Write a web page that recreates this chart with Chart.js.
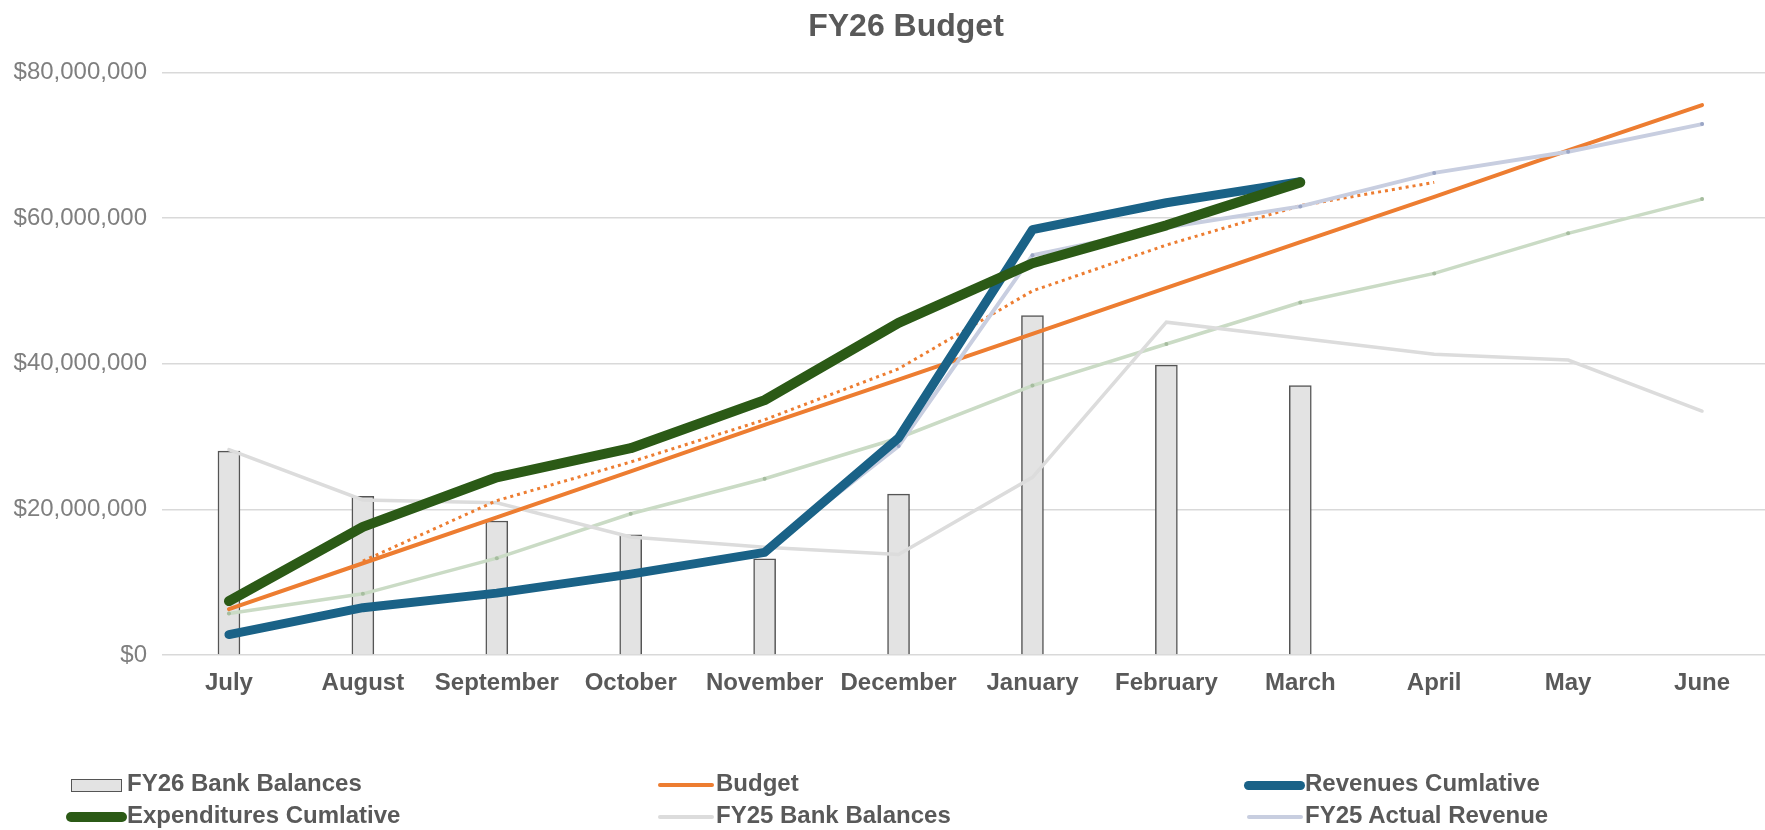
<!DOCTYPE html>
<html>
<head>
<meta charset="utf-8">
<title>FY26 Budget</title>
<script src="https://cdn.jsdelivr.net/npm/chart.js@4.4.1/dist/chart.umd.min.js"></script>
<style>
	html, body { margin: 0; padding: 0; background: #ffffff; overflow: hidden; }
	#wrap { position: relative; width: 1765px; height: 830px; overflow: hidden; }
	#chart { position: absolute; left: 0; top: 0; }
	#legend {
		position: absolute; left: 66px; top: 767px;
		display: grid; grid-template-columns: repeat(3, 589px); grid-auto-rows: 32px;
		font-family: "Liberation Sans", Arial, sans-serif; font-weight: bold; font-size: 24px; color: #595959;
	}
	.item { display: flex; align-items: center; line-height: 32px; white-space: nowrap; }
	.swatch { width: 61px; height: 32px; display: flex; align-items: center; justify-content: center; position: relative; top: 2px; }
</style>
</head>
<body>
<div id="wrap">
	<!-- the Excel chart is cut off a little on the right, so the canvas is a bit wider than the page -->
	<canvas id="chart" width="1812" height="830"></canvas>
	<div id="legend"></div>
</div>
<script>
var fonte = '"Liberation Sans", Arial, sans-serif';

// DADOS
var meses = ['July', 'August', 'September', 'October', 'November', 'December', 'January', 'February', 'March', 'April', 'May', 'June'];

var fy26Bank = [28000000, 21800000, 18400000, 16500000, 13200000, 22100000, 46600000, 39800000, 37000000, null, null, null];
var budget = [6300000, 12600000, 18900000, 25200000, 31600000, 37800000, 44100000, 50400000, 56700000, 62900000, 69300000, 75500000];
var budgetTrend = [null, 12900000, 21200000, 26500000, 32300000, 39300000, 50000000, 56300000, 61700000, 64900000, null, null];
var revenues = [2800000, 6500000, 8500000, 11100000, 14100000, 29800000, 58400000, 62100000, 65000000, null, null, null];
var expenditures = [7400000, 17600000, 24400000, 28400000, 35000000, 45600000, 53800000, 59000000, 64900000, null, null, null];
var fy25Bank = [28200000, 21300000, 20900000, 16200000, 14800000, 13800000, 24400000, 45700000, 43500000, 41300000, 40500000, 33500000];
var fy25Revenue = [2800000, 6300000, 8400000, 10800000, 14300000, 28700000, 54900000, 58700000, 61600000, 66200000, 69100000, 72900000];
var fy25Expend = [5700000, 8400000, 13300000, 19400000, 24200000, 29800000, 37000000, 42700000, 48400000, 52400000, 57900000, 62600000];

var yTicks = [0, 20000000, 40000000, 60000000, 80000000];

// o titulo fica centrado na largura toda do canvas (sem o padding da direita)
var tituloCentro = {
	id: 'tituloCentro',
	afterLayout: function(chart) {
		var tb = chart.titleBlock;
		if (tb) {
			tb.left = 0;
			tb.right = chart.width;
			tb.width = chart.width;
		}
	}
};

// GRAFICO
var ctx = document.getElementById('chart').getContext('2d');
var chart = new Chart(ctx, {
	type: 'bar',
	data: {
		labels: meses,
		datasets: [{
			label: 'FY26 Bank Balances',
			data: fy26Bank,
			backgroundColor: '#e3e3e3',
			borderColor: '#555555',
			borderWidth: 1.5,
			barThickness: 22,
			order: 8
		}, {
			type: 'line',
			label: 'Budget',
			data: budget,
			borderColor: '#ed7d31',
			borderWidth: 4,
			borderCapStyle: 'round',
			pointRadius: 0,
			order: 4
		}, {
			type: 'line',
			label: 'Revenues Cumlative',
			data: revenues,
			borderColor: '#1a6287',
			borderWidth: 9,
			borderCapStyle: 'round',
			borderJoinStyle: 'round',
			pointRadius: 0,
			order: 2
		}, {
			type: 'line',
			label: 'Expenditures Cumlative',
			data: expenditures,
			borderColor: '#2b5a16',
			borderWidth: 10,
			borderCapStyle: 'round',
			borderJoinStyle: 'round',
			pointRadius: 0,
			order: 1
		}, {
			type: 'line',
			label: 'FY25 Bank Balances',
			data: fy25Bank,
			borderColor: '#dcdcdc',
			borderWidth: 3.5,
			borderCapStyle: 'round',
			pointRadius: 0,
			order: 6
		}, {
			type: 'line',
			label: 'FY25 Actual Revenue',
			data: fy25Revenue,
			borderColor: '#c8cee0',
			borderWidth: 4,
			borderCapStyle: 'round',
			pointRadius: 2,
			pointBorderWidth: 0,
			pointBackgroundColor: '#9ba6c6',
			order: 3
		}, {
			type: 'line',
			label: 'Budget Trend',
			data: budgetTrend,
			borderColor: '#ed7d31',
			borderWidth: 3,
			borderDash: [3, 4],
			pointRadius: 0,
			order: 5
		}, {
			type: 'line',
			label: 'FY25 Expenditures',
			data: fy25Expend,
			borderColor: '#cadbc5',
			borderWidth: 3.5,
			borderCapStyle: 'round',
			pointRadius: 2,
			pointBorderWidth: 0,
			pointBackgroundColor: '#a6bd9f',
			order: 7
		}]
	},
	options: {
		responsive: false,
		animation: false,
		layout: {
			padding: { left: 0, right: 43, top: 0, bottom: 130 }
		},
		plugins: {
			legend: { display: false },
			tooltip: { enabled: false },
			title: {
				display: true,
				text: 'FY26 Budget',
				color: '#595959',
				font: { family: fonte, size: 32, weight: 'bold' },
				padding: { top: 8, bottom: 26 }
			}
		},
		scales: {
			x: {
				grid: { display: false, drawTicks: false },
				border: { display: false },
				ticks: {
					color: '#595959',
					padding: 14,
					maxRotation: 0,
					font: { family: fonte, size: 24, weight: 'bold' }
				},
				afterFit: function(scale) { scale.height = 45; }
			},
			y: {
				min: 0,
				max: 80000000,
				afterBuildTicks: function(scale) {
					scale.ticks = yTicks.map(function(v) { return { value: v }; });
				},
				grid: { color: '#d9d9d9', lineWidth: 1.5, drawTicks: false },
				border: { display: false },
				ticks: {
					color: '#7f7f7f',
					padding: 15,
					font: { family: fonte, size: 24 },
					callback: function(v) { return '$' + v.toLocaleString('en-US'); }
				},
				afterFit: function(scale) { scale.width = 162; }
			}
		}
	},
	plugins: [tituloCentro]
});

// LEGENDA (html, em 3 colunas como no Excel)
var legendaOrdem = [0, 1, 2, 3, 4, 5];
var legenda = document.getElementById('legend');
legendaOrdem.forEach(function(i) {
	var ds = chart.data.datasets[i];
	var item = document.createElement('div');
	item.className = 'item';
	var sw = document.createElement('span');
	sw.className = 'swatch';
	var mark = document.createElement('span');
	if (ds.type == 'line') {
		mark.style.width = (ds.borderWidth >= 8 ? 61 : 56) + 'px';
		mark.style.height = ds.borderWidth + 'px';
		mark.style.borderRadius = ds.borderWidth + 'px';
		mark.style.background = ds.borderColor;
	} else {
		mark.style.width = '49px';
		mark.style.height = '11px';
		mark.style.background = ds.backgroundColor;
		mark.style.border = ds.borderWidth + 'px solid ' + ds.borderColor;
	}
	sw.appendChild(mark);
	item.appendChild(sw);
	item.appendChild(document.createTextNode(ds.label));
	legenda.appendChild(item);
});
</script>
</body>
</html>
